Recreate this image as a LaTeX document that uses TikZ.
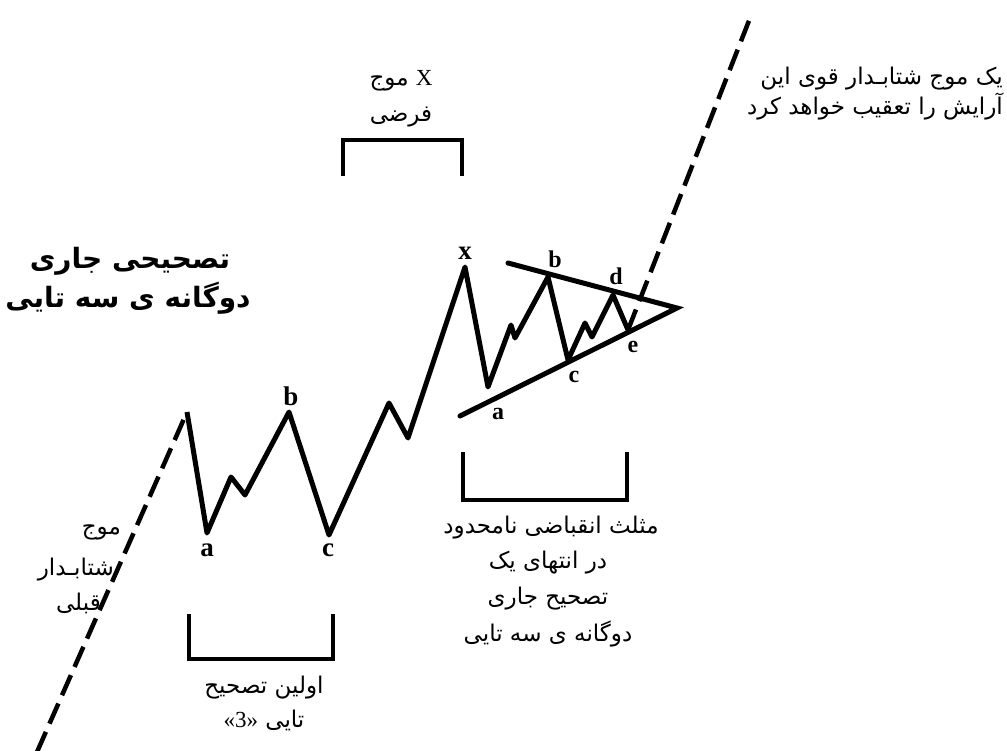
\documentclass[tikz,border=0pt]{standalone}
\usepackage{fontspec}
\setmainfont{Liberation Serif}
\newfontfamily\fa[Script=Arabic]{DejaVu Sans}
\TeXXeTstate=1
\begin{document}
\begin{tikzpicture}[x=1pt,y=-1pt,
 wave/.style={line width=5pt,line join=round},
 tri/.style={line width=5pt,line cap=round},
 brk/.style={line width=4pt},
 dsh/.style={line width=4.5pt,dash pattern=on 22pt off 9pt},
 lbl/.style={font=\bfseries\fontsize{27}{27}\selectfont,inner sep=0pt},
 slbl/.style={font=\bfseries\fontsize{24}{24}\selectfont,inner sep=0pt},
 fatxt/.style={font=\fa\fontsize{23}{26}\selectfont,inner sep=0pt},
 titletxt/.style={font=\fa\bfseries\fontsize{28}{32}\selectfont,inner sep=0pt},
]
\useasboundingbox (0,0) rectangle (1007,751);
% wave vertices
\coordinate (s0) at (37,752);
\coordinate (p0) at (187,412);
\coordinate (a1) at (207,533);
\coordinate (a1p) at (231,477);
\coordinate (a1t) at (245,495);
\coordinate (b1) at (289,412);
\coordinate (c1) at (329,535);
\coordinate (w3) at (389,403);
\coordinate (w4) at (408,438);
\coordinate (x) at (465,267);
\coordinate (ta) at (488,387);
\coordinate (tap) at (511,325);
\coordinate (tat) at (515,338);
\coordinate (tb) at (548,277);
\coordinate (tc) at (568,360);
\coordinate (tcp) at (585,323);
\coordinate (tct) at (592,337);
\coordinate (td) at (613,295);
\coordinate (te) at (628,330);
\coordinate (apex) at (677,308);
\coordinate (ul) at (508,263);
\coordinate (ll) at (460,416);
\coordinate (top) at (752,13);

\draw[dsh] (s0) -- (p0);
\draw[wave] (p0) -- (a1) -- (a1p) -- (a1t) -- (b1) -- (c1) -- (w3) -- (w4) -- (x)
  -- (ta) -- (tap) -- (tat) -- (tb) -- (tc) -- (tcp) -- (tct) -- (td) -- (te);
\draw[tri] (ul) -- (apex) -- (ll);
\draw[dsh] (te) -- (top);

% letter labels
\node[lbl] (lx) at (465,253) {x};
\node[slbl] (lb2) at (555,259) {b};
\node[slbl] (ld2) at (616,276) {d};
\node[slbl] (le2) at (633,347) {e};
\node[slbl] (lc2) at (574,377) {c};
\node[slbl] (la2) at (498,414) {a};
\node[lbl] (lb1) at (291,396) {b};
\node[lbl] (la1) at (207,550) {a};
\node[lbl] (lc1) at (328,550) {c};

% brackets
\draw[brk] (343,176) -- (343,140) -- (462,140) -- (462,176);
\draw[brk] (463,452) -- (463,500) -- (627,500) -- (627,452);
\draw[brk] (189,614) -- (189,659) -- (333,659) -- (333,614);

% texts
\node[titletxt] (h1) at (130,261) {\beginR تصحیحی جاری\endR};
\node[titletxt] (h2) at (128,298) {\beginR دوگانه ی سه تایی\endR};

\node[fatxt] (xm1) at (401,81) {\beginR {\rmfamily X} موج\endR};
\node[fatxt] (xm2) at (401,117) {\beginR فرضی\endR};

\node[fatxt,anchor=east] (tr1) at (1003,79) {\beginR یک موج شتابـدار قوی این\endR};
\node[fatxt,anchor=east] (tr2) at (1003,107) {\beginR آرایش را تعقیب خواهد کرد\endR};

\node[fatxt] (m1) at (551,528) {\beginR مثلث انقباضی نامحدود\endR};
\node[fatxt] (m2) at (548,563) {\beginR در انتهای یک\endR};
\node[fatxt] (m3) at (548,599) {\beginR تصحیح جاری\endR};
\node[fatxt] (m4) at (548,634) {\beginR دوگانه ی سه تایی\endR};

\node[fatxt,anchor=east] (l1) at (121,532) {\beginR موج\endR};
\node[fatxt,anchor=east] (l2) at (114,570) {\beginR شتابـدار\endR};
\node[fatxt,anchor=east] (l3) at (101,603) {\beginR قبلی\endR};

\node[fatxt] (o1) at (264,688) {\beginR اولین تصحیح\endR};
\node[fatxt] (o2) at (264,720) {\beginR تایی \beginL{\rmfamily «3»}\endL\endR};
\end{tikzpicture}
\end{document}
